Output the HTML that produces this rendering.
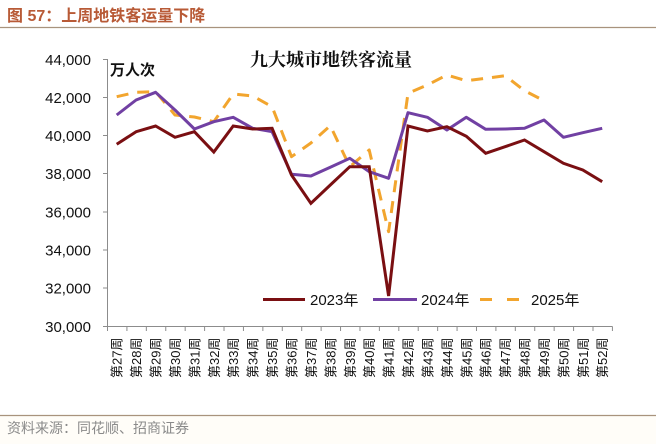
<!DOCTYPE html>
<html><head><meta charset="utf-8">
<style>
html,body{margin:0;padding:0;background:#fff;}
body{width:656px;height:444px;overflow:hidden;position:relative;}
svg{position:absolute;left:0;top:0;}
</style></head><body>
<svg width="656" height="444" viewBox="0 0 656 444" xmlns="http://www.w3.org/2000/svg">
<rect x="0" y="0" width="656" height="444" fill="#fff"/>
<rect x="0" y="416" width="656" height="28" fill="#fffdf8"/>
<!-- header -->
<text x="7" y="21" font-family="Liberation Sans, Noto Sans CJK SC, sans-serif" font-size="16" font-weight="bold" fill="#b85a36">图 57：上周地铁客运量下降</text>
<line x1="0" y1="27.5" x2="656" y2="27.5" stroke="#a8937d" stroke-width="1.2"/>
<!-- footer -->
<line x1="0" y1="415.5" x2="656" y2="415.5" stroke="#a8937d" stroke-width="1.2"/>
<text x="7" y="433" font-family="Liberation Sans, Noto Sans CJK SC, sans-serif" font-size="14" fill="#8a8a8a">资料来源：同花顺、招商证券</text>

<!-- chart title -->
<text x="331" y="66" text-anchor="middle" font-family="Liberation Serif, Noto Serif CJK SC, serif" font-size="18" font-weight="bold" fill="#111">九大城市地铁客流量</text>
<text x="110" y="75" font-family="Liberation Sans, Noto Sans CJK SC, sans-serif" font-size="15" font-weight="bold" fill="#111">万人次</text>

<!-- axes -->
<g stroke="#8c8c8c" stroke-width="1" fill="none">
<line x1="107.5" y1="59" x2="107.5" y2="326.5"/>
<line x1="107" y1="326.5" x2="612.5" y2="326.5"/>
<line x1="103" y1="59.5" x2="107.5" y2="59.5"/>
<line x1="103" y1="97.5" x2="107.5" y2="97.5"/>
<line x1="103" y1="135.5" x2="107.5" y2="135.5"/>
<line x1="103" y1="173.5" x2="107.5" y2="173.5"/>
<line x1="103" y1="212" x2="107.5" y2="212"/>
<line x1="103" y1="250" x2="107.5" y2="250"/>
<line x1="103" y1="288" x2="107.5" y2="288"/>
<line x1="103" y1="326.5" x2="107.5" y2="326.5"/>
</g>
<g id="xticks" stroke="#8c8c8c" stroke-width="1"></g>

<g font-family="Liberation Sans, sans-serif" font-size="15" fill="#111" text-anchor="end">
<text x="91" y="65">44,000</text>
<text x="91" y="103">42,000</text>
<text x="91" y="141">40,000</text>
<text x="91" y="179">38,000</text>
<text x="91" y="217.5">36,000</text>
<text x="91" y="255.5">34,000</text>
<text x="91" y="293.5">32,000</text>
<text x="91" y="332">30,000</text>
</g>

<g id="xlabels" font-family="Liberation Sans, Noto Sans CJK SC, sans-serif" font-size="13" fill="#111"></g>

<!-- series -->
<polyline id="s25" fill="none" stroke="#f2a52e" stroke-width="3" stroke-dasharray="12,9" stroke-linejoin="round"/>
<polyline id="s24" fill="none" stroke="#7140a3" stroke-width="3" stroke-linejoin="round"/>
<polyline id="s23" fill="none" stroke="#7a0f12" stroke-width="3" stroke-linejoin="miter"/>

<!-- legend -->
<line x1="263" y1="299.5" x2="305" y2="299.5" stroke="#7a0f12" stroke-width="3"/>
<text x="310" y="305" font-family="Liberation Sans, Noto Sans CJK SC, sans-serif" font-size="15" fill="#111">2023年</text>
<line x1="373" y1="299.5" x2="417" y2="299.5" stroke="#7140a3" stroke-width="3"/>
<text x="421" y="305" font-family="Liberation Sans, Noto Sans CJK SC, sans-serif" font-size="15" fill="#111">2024年</text>
<line x1="480" y1="299.5" x2="492" y2="299.5" stroke="#f2a52e" stroke-width="3"/>
<line x1="507" y1="299.5" x2="519" y2="299.5" stroke="#f2a52e" stroke-width="3"/>
<text x="531" y="305" font-family="Liberation Sans, Noto Sans CJK SC, sans-serif" font-size="15" fill="#111">2025年</text>
</svg>
<script>
(function(){
  var NS="http://www.w3.org/2000/svg";
  var x0=107, w=19.42;
  var ticks=document.getElementById("xticks");
  for(var k=0;k<=26;k++){
    var l=document.createElementNS(NS,"line");
    var x=x0+w*k+0.5;
    l.setAttribute("x1",x);l.setAttribute("x2",x);
    l.setAttribute("y1",326.5);l.setAttribute("y2",331);
    ticks.appendChild(l);
  }
  var lab=document.getElementById("xlabels");
  for(var i=0;i<26;i++){
    var cx=x0+w*(i+0.5);
    var t=document.createElementNS(NS,"text");
    t.setAttribute("transform","translate("+(cx+5)+",378) rotate(-90)");
    t.textContent="第"+(27+i)+"周";
    lab.appendChild(t);
  }
  function pts(arr){
    var s=[];
    for(var i=0;i<arr.length;i++){s.push((x0+w*(i+0.5)).toFixed(1)+","+arr[i]);}
    return s.join(" ");
  }
  var d23=[144.3,131.7,126,137.3,131.7,152,126,129,128.3,175,203.3,185,166.7,166.7,296,126,131,126.7,136.3,153.3,146.7,140,151.7,163.3,170,181.7];
  var d24=[115,100,92.3,110,129,121.7,117.3,128.3,131.7,174.3,176,167.3,158.3,171.7,178.3,112.7,117.3,130,117.3,129.3,129,128.3,120,137.3,132.7,128.3];
  var d25=[96.7,92.3,91.7,115,117,121.7,94,96,106.7,156.7,143,125.7,166.7,150,231.7,93.3,85,75,80.7,78.3,75.7,90.7,100.7];
  document.getElementById("s23").setAttribute("points",pts(d23));
  document.getElementById("s24").setAttribute("points",pts(d24));
  document.getElementById("s25").setAttribute("points",pts(d25));
})();
</script>
</body></html>
